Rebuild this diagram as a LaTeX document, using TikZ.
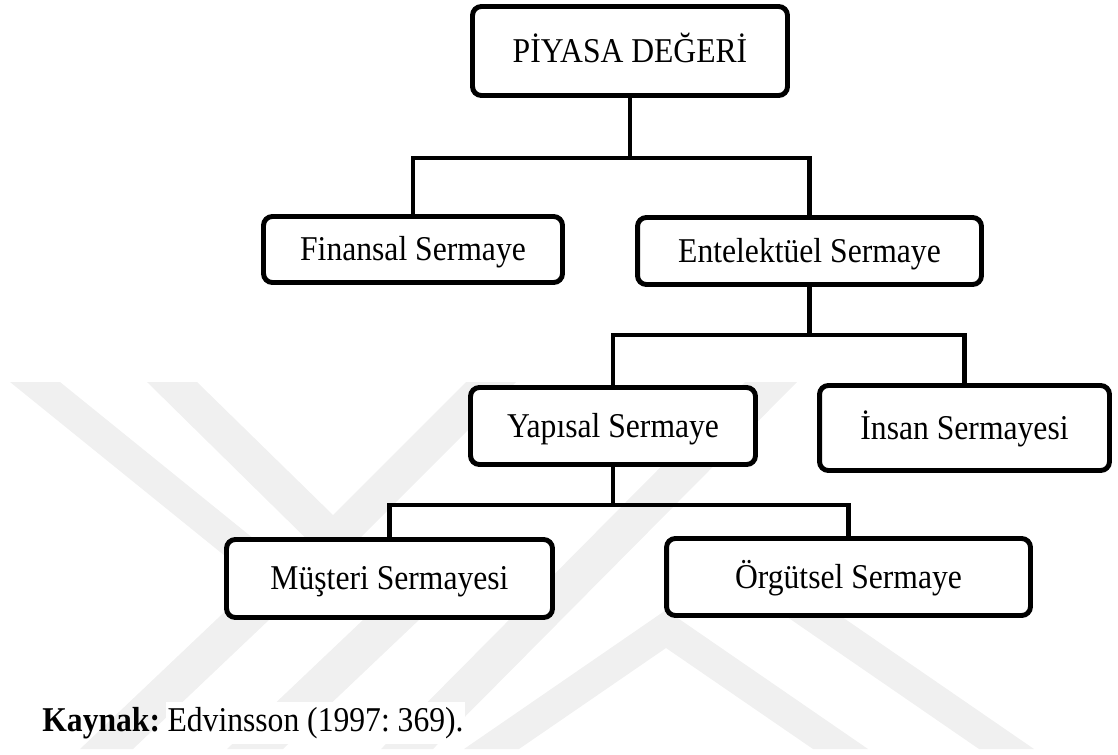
\documentclass[tikz,border=0pt]{standalone}
\usepackage{fontspec}
\setmainfont{Liberation Serif}
\usetikzlibrary{positioning}

\newcommand{\uzun}[1]{\scalebox{1}[1.1]{#1}}

\tikzset{
  yazi/.style={font=\fontsize{18}{22}\selectfont},
  kutu/.style={yazi, draw, line width=2.8pt, rounded corners=5pt, fill=white, inner sep=0pt, align=center, text height=13pt, text depth=0pt},
  bag/.style={line width=2.3pt},
  damga/.style={fill=black!6},
}

\begin{document}
\frenchspacing
\begin{tikzpicture}[x=0.02cm, y=-0.02cm]
	\useasboundingbox (0,0) rectangle (1118,754);

	% silik arka plan damgasi
	\fill[damga] (10,382) -- (60,382) -- (280,560) -- (230,560) -- cycle;
	\fill[damga] (147,382) -- (197,382) -- (333,515) -- (466,382) -- (516,382) -- (333,565) -- cycle;
	\fill[damga] (745,382) -- (797,382) -- (433,749) -- (381,749) -- cycle;
	\fill[damga] (80,749) -- (133,749) -- (290,600) -- (237,600) -- cycle;
	\fill[damga] (227,749) -- (283,749) -- (440,600) -- (384,600) -- cycle;
	\fill[damga] (464,749) -- (666,610) -- (868,749) -- (813,749) -- (666,648) -- (519,749) -- cycle;
	\fill[damga] (777,610) -- (832,610) -- (1034,749) -- (979,749) -- cycle;

	% kutular
	\node[kutu, minimum width=6.3cm, minimum height=1.78cm] (piyasa) at (630,51) {\uzun{PİYASA DEĞERİ}};
	\node[kutu, minimum width=5.98cm, minimum height=1.32cm] (finansal) at (413,249.5) {\uzun{Finansal Sermaye}};
	\node[kutu, minimum width=6.88cm, minimum height=1.34cm] (entel) at (809.5,251) {\uzun{Entelektüel Sermaye}};
	\node[kutu, minimum width=5.7cm, minimum height=1.54cm] (yapisal) at (613,426) {\uzun{Yapısal Sermaye}};
	\node[kutu, minimum width=5.8cm, minimum height=1.7cm] (insan) at (964.5,428) {\uzun{İnsan Sermayesi}};
	\node[kutu, minimum width=6.52cm, minimum height=1.56cm] (musteri) at (389.5,578.5) {\uzun{Müşteri Sermayesi}};
	\node[kutu, minimum width=7.28cm, minimum height=1.54cm] (orgutsel) at (848.5,577) {\uzun{Örgütsel Sermaye}};

	% baglantilar
	\draw[bag] (piyasa.south) -- ++(0,60) coordinate (j1);
	\draw[bag] (finansal.north) |- (j1) -| (entel.north);
	\draw[bag] (entel.south) -- ++(0,48) coordinate (j2);
	\draw[bag] (yapisal.north) |- (j2) -| (insan.north);
	\draw[bag] (yapisal.south) -- ++(0,38) coordinate (j3);
	\draw[bag] (musteri.north) |- (j3) -| (orgutsel.north);

	% kaynak
	\node[yazi, font=\fontsize{18}{22}\selectfont\bfseries, anchor=base west, inner sep=0pt] (kaynak) at (42,731) {\uzun{Kaynak:}};
	\node[yazi, anchor=base west, fill=white, inner xsep=1pt, inner ysep=3pt] (kaynakref) at ([xshift=0.1cm]kaynak.base east) {\uzun{Edvinsson (1997: 369).}};
\end{tikzpicture}
\end{document}
